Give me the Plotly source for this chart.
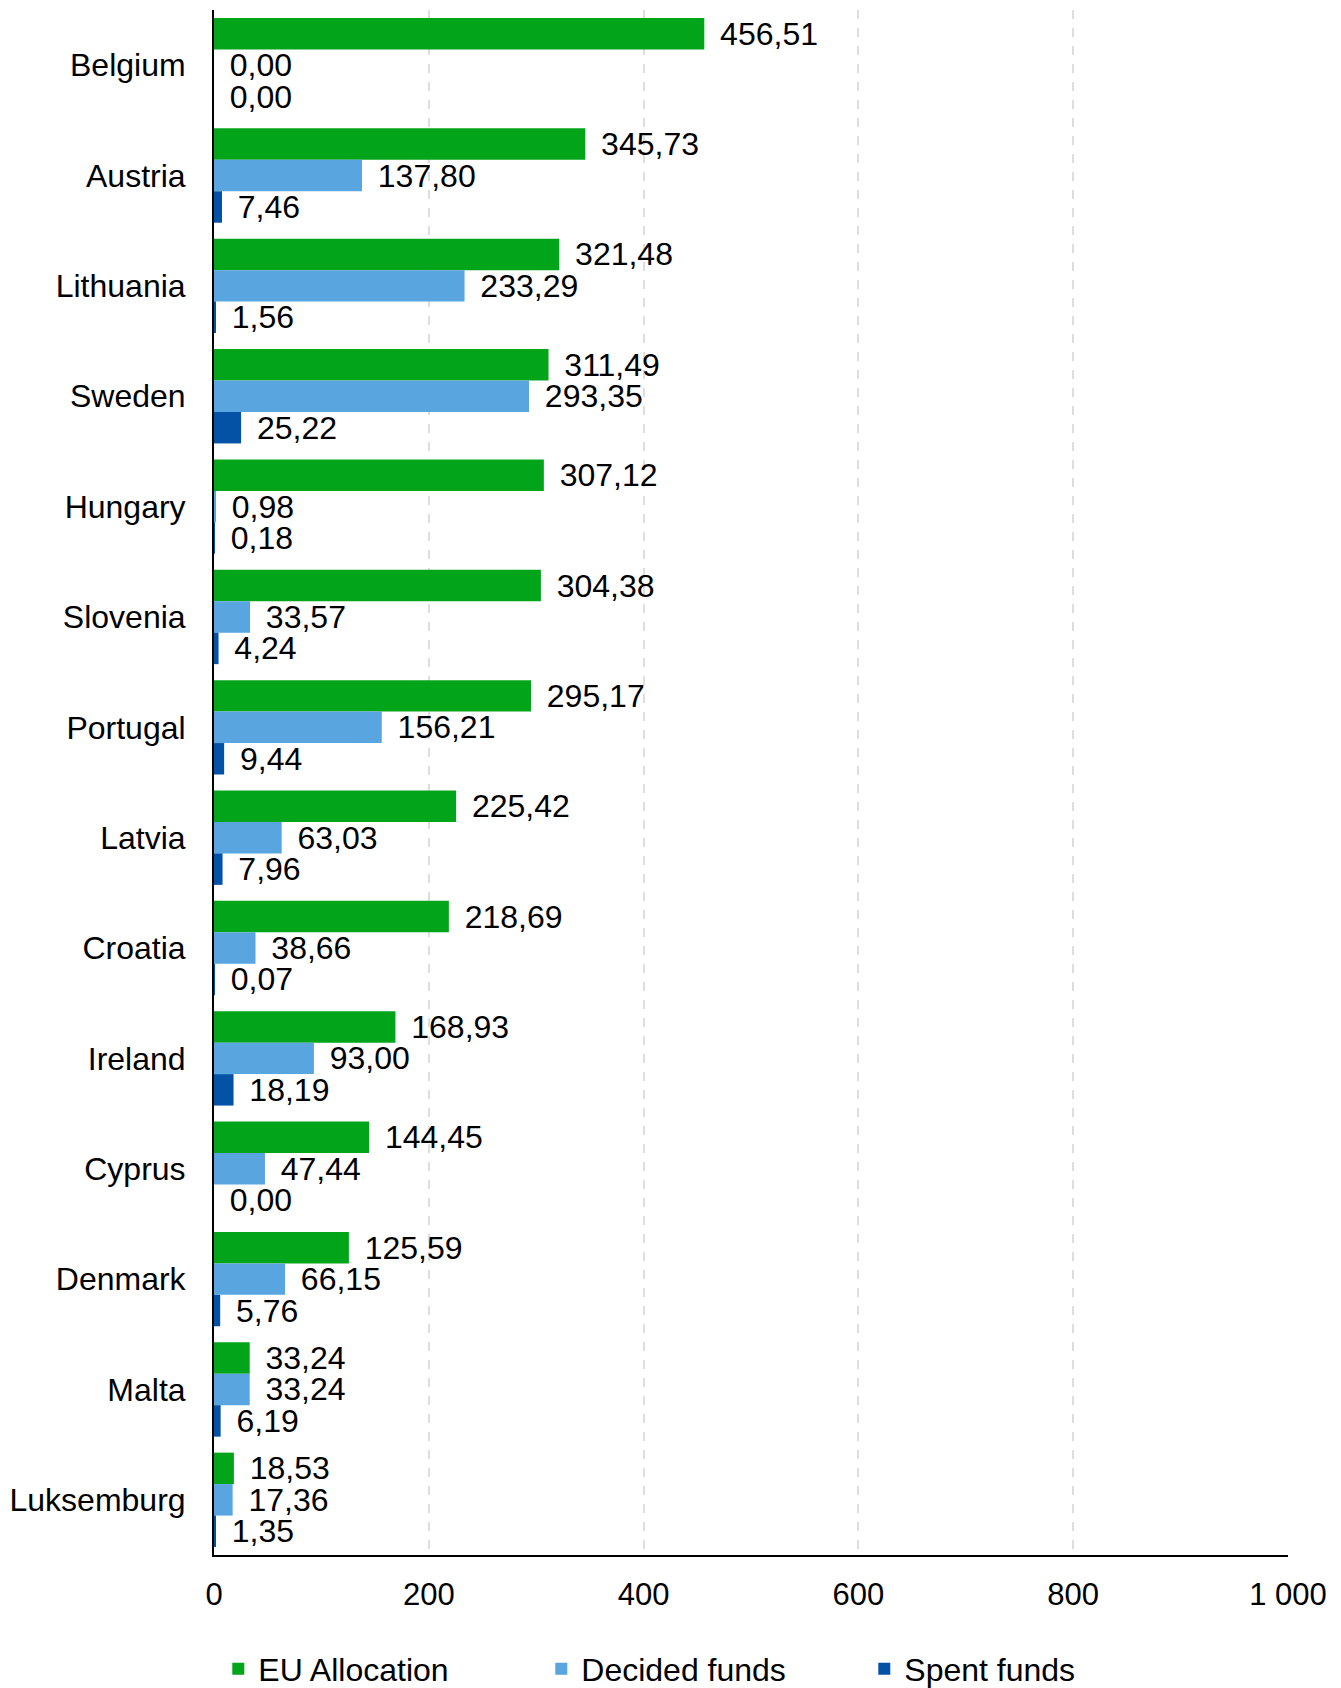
import plotly.graph_objects as go

countries = ["Belgium", "Austria", "Lithuania", "Sweden", "Hungary", "Slovenia", "Portugal",
             "Latvia", "Croatia", "Ireland", "Cyprus", "Denmark", "Malta", "Luksemburg"]
eu_allocation = [456.51, 345.73, 321.48, 311.49, 307.12, 304.38, 295.17,
                 225.42, 218.69, 168.93, 144.45, 125.59, 33.24, 18.53]
decided_funds = [0.00, 137.80, 233.29, 293.35, 0.98, 33.57, 156.21,
                 63.03, 38.66, 93.00, 47.44, 66.15, 33.24, 17.36]
spent_funds = [0.00, 7.46, 1.56, 25.22, 0.18, 4.24, 9.44,
               7.96, 0.07, 18.19, 0.00, 5.76, 6.19, 1.35]
x_ticks = [0, 200, 400, 600, 800, 1000]

series = [
    ("EU Allocation", eu_allocation, "#02A51A"),
    ("Decided funds", decided_funds, "#58A5E0"),
    ("Spent funds", spent_funds, "#0352A5"),
]

FONT = "Liberation Sans, Arial, sans-serif"

fig = go.Figure()
for name, vals, color in series:
    fig.add_trace(go.Bar(
        y=countries, x=vals, name=name, orientation="h",
        marker=dict(color=color, line=dict(width=0)),
        texttemplate="\u2009\u2009%{x:.2f}",
        textposition="outside",
        constraintext="none",
        cliponaxis=False,
        textfont=dict(family=FONT, size=32, color="black"),
    ))

fig.update_layout(
    width=1333, height=1680,
    barmode="group", bargap=0.145, bargroupgap=0,
    separators=", ",
    plot_bgcolor="white", paper_bgcolor="white",
    margin=dict(l=206, r=53, t=2, b=133, autoexpand=False),
    font=dict(family=FONT, size=32, color="black"),
    showlegend=True,
    legend=dict(orientation="h", x=0.004, xanchor="left", y=-0.0738, yanchor="middle",
                traceorder="normal", font=dict(family=FONT, size=32, color="black"),
                entrywidth=278, entrywidthmode="pixels", itemwidth=30),
    xaxis=dict(range=[0, 1000], tickvals=x_ticks, tickformat=",d",
               showgrid=True, gridcolor="#dedede", gridwidth=1.5, griddash="dash",
               zeroline=False, showline=True, linecolor="black", linewidth=2,
               ticks="", ticklabelstandoff=11,
               tickfont=dict(family=FONT, size=31, color="black")),
    yaxis=dict(autorange="reversed", showgrid=False, zeroline=False,
               showline=True, linecolor="black", linewidth=2, ticks="",
               ticklabelstandoff=20,
               tickfont=dict(family=FONT, size=32, color="black")),
)

fig.write_html("out.html")
